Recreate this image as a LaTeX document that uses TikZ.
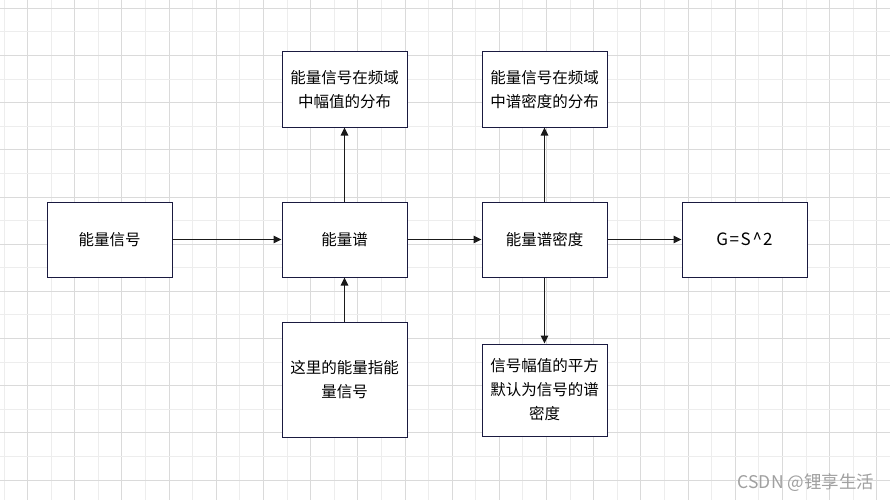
\documentclass[tikz,border=0pt]{standalone}
\usepackage{fontspec}
\setmainfont{Noto Sans CJK SC}
\usetikzlibrary{arrows.meta}
\definecolor{gridmajor}{HTML}{DADADA}
\definecolor{gridminor}{HTML}{EDEDED}
\definecolor{boxline}{HTML}{1A1A40}
\definecolor{arrowline}{HTML}{1A1A1A}
\definecolor{wmark}{HTML}{A0A0A0}
\tikzset{
  box/.style={draw=boxline, line width=1pt, fill=white, minimum width=125pt, minimum height=75pt,
    align=center, inner sep=2pt, font=\fontsize{15.5pt}{24pt}\selectfont},
  conn/.style={draw=arrowline, line width=1.1pt, -{Triangle[length=8pt,width=7.5pt]}},
}
\begin{document}
\begin{tikzpicture}[x=1pt,y=-1pt]
\useasboundingbox (0,0) rectangle (890,500);
\fill[white] (0,0) rectangle (890,500);
% grid
\foreach \k in {0,...,37}{
  \pgfmathsetmacro{\xx}{4+23.59*\k}
  \pgfmathtruncatemacro{\odd}{mod(\k,2)}
  \ifnum\odd=1
    \draw[gridmajor, line width=1pt] (\xx,0) -- (\xx,500);
  \else
    \draw[gridminor, line width=1pt] (\xx,0) -- (\xx,500);
  \fi
}
\foreach \k in {0,...,20}{
  \pgfmathsetmacro{\yy}{8.3+23.59*\k}
  \pgfmathtruncatemacro{\odd}{mod(\k,2)}
  \ifnum\odd=0
    \draw[gridmajor, line width=1pt] (0,\yy) -- (890,\yy);
  \else
    \draw[gridminor, line width=1pt] (0,\yy) -- (890,\yy);
  \fi
}
% nodes
\node[box] (sig)  at (109.5,239.5) {能量信号};
\node[box] (spec) at (344.5,239.5) {能量谱};
\node[box] (dens) at (544.5,239.5) {能量谱密度};
\node[box, font=\fontsize{17pt}{24pt}\selectfont] (g) at (744.5,239.5) {G\hspace{1.5pt}=\hspace{1.5pt}S\hspace{2pt}\string^\hspace{1pt}2};
\node[box] (top1) at (344.5,89.5) {能量信号在频域\\中幅值的分布};
\node[box] (top2) at (544.5,89.5) {能量信号在频域\\中谱密度的分布};
\node[box, minimum height=115pt] (bot1) at (344.5,379.5) {这里的能量指能\\量信号};
\node[box, minimum height=92pt] (bot2) at (544.5,390) {信号幅值的平方\\默认为信号的谱\\密度};
% connectors
\draw[conn] (sig) -- (spec);
\draw[conn] (spec) -- (dens);
\draw[conn] (dens) -- (g);
\draw[conn] (spec) -- (top1);
\draw[conn] (bot1) -- (spec);
\draw[conn] (dens) -- (top2);
\draw[conn] (dens) -- (bot2);
% watermark
\node[text=wmark, font=\fontsize{17.5pt}{20pt}\selectfont, inner sep=0pt] (wm) at (806,483) {CSDN @锂享生活};
\end{tikzpicture}
\end{document}
